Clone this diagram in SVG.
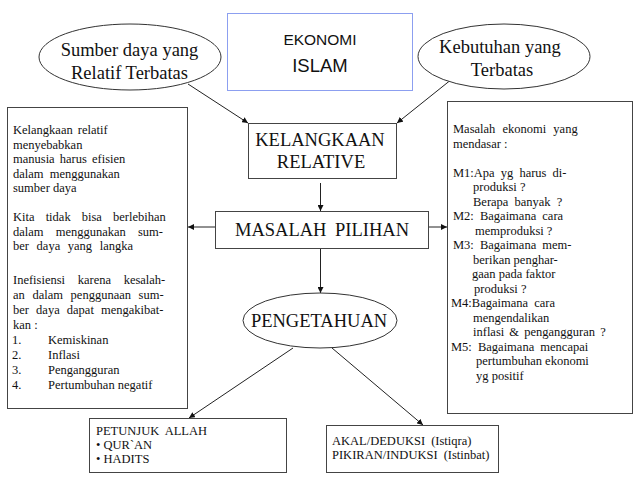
<svg xmlns="http://www.w3.org/2000/svg" width="640" height="479" viewBox="0 0 640 479">
<style>
.box{fill:#fff;stroke:#444;stroke-width:1}
.ell{fill:#fff;stroke:#333;stroke-width:1}
.big{font-family:"Liberation Serif","Times New Roman",serif;font-size:18.5px;fill:#111;text-anchor:middle}
.sm{font-family:"Liberation Serif","Times New Roman",serif;font-size:12.5px;fill:#111}
.sans{font-family:"Liberation Sans",Arial,sans-serif;fill:#111;text-anchor:middle}
.con{stroke:#222;stroke-width:1;fill:none;marker-end:url(#ah)}
</style>
<defs>
<marker id="ah" viewBox="0 0 10 10" refX="10" refY="5" markerWidth="6" markerHeight="6" markerUnits="userSpaceOnUse" orient="auto">
<path d="M0,0 L10,5 L0,10 z" fill="#111"/>
</marker>
</defs>
<rect width="640" height="479" fill="#fff"/>

<g id="connectors">
<line class="con" x1="188" y1="84" x2="248" y2="123"/>
<line class="con" x1="452" y1="79" x2="397" y2="123"/>
<line class="con" x1="320.5" y1="183" x2="320.5" y2="211"/>
<line class="con" x1="215" y1="227" x2="188" y2="227"/>
<line class="con" x1="429" y1="227" x2="447" y2="227"/>
<line class="con" x1="320.5" y1="249" x2="320.5" y2="293"/>
<line class="con" x1="293" y1="348" x2="189" y2="418"/>
<line class="con" x1="332" y1="348" x2="423" y2="425"/>
</g>

<g id="ekonomi-islam">
<rect x="227.5" y="13.5" width="185" height="77" fill="#fff" stroke="#8c9ff0" stroke-width="1"/>
<text class="sans" x="320" y="45" font-size="15.5">EKONOMI</text>
<text class="sans" x="320" y="72" font-size="18.5">ISLAM</text>
</g>

<g id="sumber-daya">
<ellipse class="ell" cx="130" cy="57" rx="91" ry="33"/>
<text class="big" x="129.5" y="56" font-size="18">Sumber daya yang</text>
<text class="big" x="129.5" y="79" font-size="18">Relatif Terbatas</text>
</g>

<g id="kebutuhan">
<ellipse class="ell" cx="504" cy="56.5" rx="86" ry="32.5"/>
<text class="big" x="500" y="53" font-size="18">Kebutuhan yang</text>
<text class="big" x="502" y="76" font-size="18">Terbatas</text>
</g>

<g id="kelangkaan">
<rect class="box" x="248.5" y="123.5" width="148" height="55"/>
<text class="big" x="320" y="146">KELANGKAAN</text>
<text class="big" x="321" y="168">RELATIVE</text>
</g>

<g id="masalah-pilihan">
<rect class="box" x="215.5" y="211.5" width="213" height="37"/>
<text class="big" x="322" y="236" word-spacing="4">MASALAH PILIHAN</text>
</g>

<g id="pengetahuan">
<ellipse class="ell" cx="320" cy="320.5" rx="77" ry="27.5"/>
<text class="big" x="319" y="327">PENGETAHUAN</text>
</g>

<g id="kiri">
<rect class="box" x="7.5" y="107.5" width="180" height="301"/>
<text class="sm" x="13" y="134" word-spacing="2">Kelangkaan relatif</text>
<text class="sm" x="13" y="148.5">menyebabkan</text>
<text class="sm" x="13" y="163" word-spacing="2">manusia harus efisien</text>
<text class="sm" x="13" y="177.5" word-spacing="3">dalam menggunakan</text>
<text class="sm" x="13" y="192">sumber daya</text>
<text class="sm" x="13" y="221" word-spacing="8">Kita tidak bisa berlebihan</text>
<text class="sm" x="13" y="235.5" word-spacing="9">dalam menggunakan sum-</text>
<text class="sm" x="13" y="250" word-spacing="4.5">ber daya yang langka</text>
<text class="sm" x="13" y="284" word-spacing="9.5">Inefisiensi karena kesalah-</text>
<text class="sm" x="13" y="299" word-spacing="4.5">an dalam penggunaan sum-</text>
<text class="sm" x="13" y="314" word-spacing="4">ber daya dapat mengakibat-</text>
<text class="sm" x="13" y="329">kan :</text>
<text class="sm" x="12" y="344">1.</text><text class="sm" x="48" y="344">Kemiskinan</text>
<text class="sm" x="12" y="359">2.</text><text class="sm" x="48" y="359">Inflasi</text>
<text class="sm" x="12" y="374">3.</text><text class="sm" x="48" y="374">Pengangguran</text>
<text class="sm" x="12" y="389">4.</text><text class="sm" x="48" y="389">Pertumbuhan negatif</text>
</g>

<g id="kanan">
<rect class="box" x="447.5" y="101.5" width="185" height="312"/>
<text class="sm" x="453" y="133" word-spacing="4">Masalah ekonomi yang</text>
<text class="sm" x="453" y="147.5">mendasar :</text>
<text class="sm" x="453" y="176.5" word-spacing="3">M1:Apa yg harus di-</text>
<text class="sm" x="473" y="191">produksi ?</text>
<text class="sm" x="473" y="205.5" word-spacing="3">Berapa banyak ?</text>
<text class="sm" x="453" y="220" word-spacing="3">M2: Bagaimana cara</text>
<text class="sm" x="475" y="234.5">memproduksi ?</text>
<text class="sm" x="453" y="249" word-spacing="3">M3: Bagaimana mem-</text>
<text class="sm" x="473" y="263.5">berikan penghar-</text>
<text class="sm" x="472" y="278">gaan pada faktor</text>
<text class="sm" x="474" y="292.5">produksi ?</text>
<text class="sm" x="451" y="307" word-spacing="3">M4:Bagaimana cara</text>
<text class="sm" x="473" y="321.5">mengendalikan</text>
<text class="sm" x="473" y="336" word-spacing="2">inflasi &amp; pengangguran ?</text>
<text class="sm" x="451" y="350.5" word-spacing="3">M5: Bagaimana mencapai</text>
<text class="sm" x="476" y="365">pertumbuhan ekonomi</text>
<text class="sm" x="476" y="379.5">yg positif</text>
</g>

<g id="petunjuk">
<rect class="box" x="89.5" y="418.5" width="197" height="54"/>
<text class="sm" x="96" y="435" font-size="12" word-spacing="3">PETUNJUK ALLAH</text>
<text class="sm" x="96" y="449" font-size="12">• QUR`AN</text>
<text class="sm" x="96" y="463" font-size="12">• HADITS</text>
</g>

<g id="akal">
<rect class="box" x="326.5" y="425.5" width="172" height="47"/>
<text class="sm" x="332" y="445" font-size="12" word-spacing="3">AKAL/DEDUKSI (Istiqra)</text>
<text class="sm" x="332" y="459" font-size="12" word-spacing="3">PIKIRAN/INDUKSI (Istinbat)</text>
</g>
</svg>
